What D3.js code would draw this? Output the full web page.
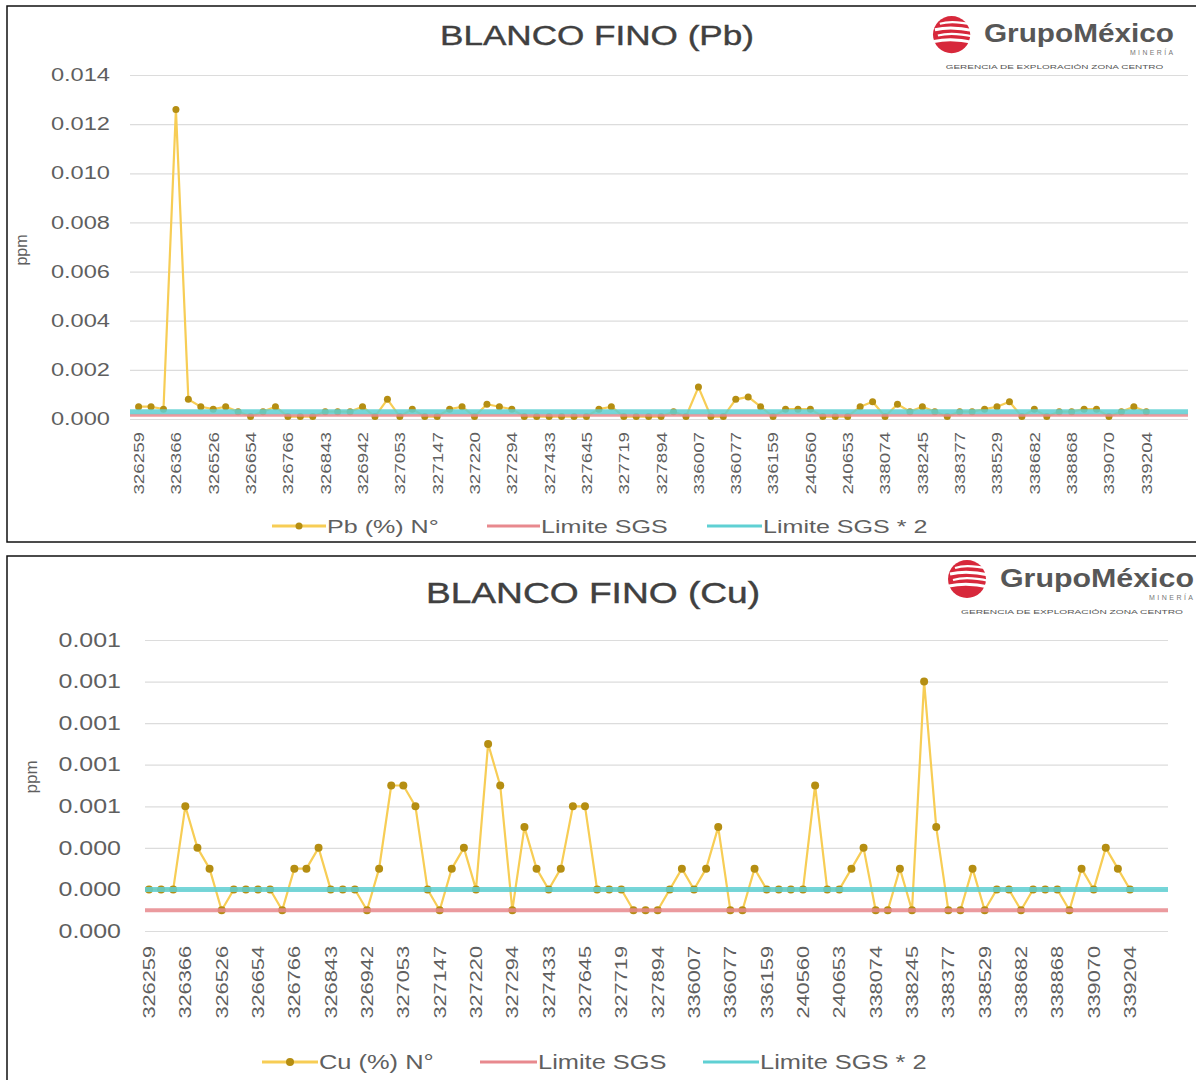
<!DOCTYPE html>
<html>
<head>
<meta charset="utf-8">
<script src="https://cdn.jsdelivr.net/npm/d3@7"></script>
<style>
  body { margin: 0; background: #fff; }
  text { font-family: "Liberation Sans", Arial, sans-serif; }
</style>
</head>
<body>
<svg id="chart" width="1196" height="1080"></svg>
<script>
// sample labels shown on the x axis (every third sample)
const tickLabels = ["326259", "326366", "326526", "326654", "326766", "326843", "326942",
  "327053", "327147", "327220", "327294", "327433", "327645", "327719", "327894",
  "336007", "336077", "336159", "240560", "240653", "338074", "338245", "338377",
  "338529", "338682", "338868", "339070", "339204"];

// Pb (%) per sample
const pbValues = [0.0005, 0.0005, 0.0004, 0.0126, 0.0008, 0.0005, 0.0004, 0.0005, 0.0003, 0.0001,
  0.0003, 0.0005, 0.0001, 0.0001, 0.0001, 0.0003, 0.0003, 0.0003, 0.0005, 0.0001,
  0.0008, 0.0001, 0.0004, 0.0001, 0.0001, 0.0004, 0.0005, 0.0001, 0.0006, 0.0005,
  0.0004, 0.0001, 0.0001, 0.0001, 0.0001, 0.0001, 0.0001, 0.0004, 0.0005, 0.0001,
  0.0001, 0.0001, 0.0001, 0.0003, 0.0001, 0.0013, 0.0001, 0.0001, 0.0008, 0.0009,
  0.0005, 0.0001, 0.0004, 0.0004, 0.0004, 0.0001, 0.0001, 0.0001, 0.0005, 0.0007,
  0.0001, 0.0006, 0.0003, 0.0005, 0.0003, 0.0001, 0.0003, 0.0003, 0.0004, 0.0005,
  0.0007, 0.0001, 0.0004, 0.0001, 0.0003, 0.0003, 0.0004, 0.0004, 0.0001, 0.0003,
  0.0005, 0.0003];

// Cu (%) per sample
const cuValues = [0.0002, 0.0002, 0.0002, 0.0006, 0.0004, 0.0003, 0.0001, 0.0002, 0.0002, 0.0002,
  0.0002, 0.0001, 0.0003, 0.0003, 0.0004, 0.0002, 0.0002, 0.0002, 0.0001, 0.0003,
  0.0007, 0.0007, 0.0006, 0.0002, 0.0001, 0.0003, 0.0004, 0.0002, 0.0009, 0.0007,
  0.0001, 0.0005, 0.0003, 0.0002, 0.0003, 0.0006, 0.0006, 0.0002, 0.0002, 0.0002,
  0.0001, 0.0001, 0.0001, 0.0002, 0.0003, 0.0002, 0.0003, 0.0005, 0.0001, 0.0001,
  0.0003, 0.0002, 0.0002, 0.0002, 0.0002, 0.0007, 0.0002, 0.0002, 0.0003, 0.0004,
  0.0001, 0.0001, 0.0003, 0.0001, 0.0012, 0.0005, 0.0001, 0.0001, 0.0003, 0.0001,
  0.0002, 0.0002, 0.0001, 0.0002, 0.0002, 0.0002, 0.0001, 0.0003, 0.0002, 0.0004,
  0.0003, 0.0002];

// detection limits
const pbLimit = 0.00015;
const cuLimit = 0.0001;

const pbTicks = [0, 0.002, 0.004, 0.006, 0.008, 0.010, 0.012, 0.014];
const cuTicks = [0, 0.0002, 0.0004, 0.0006, 0.0008, 0.0010, 0.0012, 0.0014];

const lineColor = "#f7cd55";
const markerColor = "#b58e12";
const redColor = "#e8898e";
const cyanColor = "#5fd0d3";
const textColor = "#5f5f5f";

const svg = d3.select("svg#chart");

// the source picture is a bit wider than tall, stretch text to match
function stretch(sel, k) {
  sel.each(function () {
    const w = this.getComputedTextLength();
    d3.select(this).attr("textLength", w * k).attr("lengthAdjust", "spacingAndGlyphs");
  });
}

function drawLogo(g, x, y, s) {
  const logo = g.append("g").attr("transform", `translate(${x},${y}) scale(${s})`);
  logo.append("circle").attr("cx", 20).attr("cy", 20).attr("r", 19).attr("fill", "#d7283b");
  // white swooshes across the emblem
  [[8, 9], [3, 15], [6, 21], [2, 27]].forEach((d, i) => {
    logo.append("path")
      .attr("d", `M${d[0]},${d[1]} Q20,${d[1] - 4} 42,${d[1] + 1}`)
      .attr("fill", "none").attr("stroke", "#fff").attr("stroke-width", i % 2 ? 3 : 2.2);
  });
  logo.append("text").attr("x", 53).attr("y", 28)
    .attr("font-size", 26).attr("font-weight", "bold").attr("fill", "#575757")
    .attr("textLength", 194).attr("lengthAdjust", "spacingAndGlyphs")
    .text("GrupoMéxico");
  logo.append("text").attr("x", 246).attr("y", 41).attr("text-anchor", "end")
    .attr("font-size", 7).attr("fill", "#777")
    .attr("textLength", 44).attr("lengthAdjust", "spacing")
    .text("MINERÍA");
  logo.append("text").attr("x", 236).attr("y", 55).attr("text-anchor", "end")
    .attr("font-size", 5.8).attr("fill", "#555")
    .attr("textLength", 222).attr("lengthAdjust", "spacingAndGlyphs")
    .text("GERENCIA DE EXPLORACIÓN ZONA CENTRO");
}

function drawChart(cfg) {
  const g = svg.append("g");

  g.append("rect")
    .attr("x", cfg.box[0]).attr("y", cfg.box[1])
    .attr("width", cfg.box[2]).attr("height", cfg.box[3])
    .attr("fill", "#fff").attr("stroke", "#111").attr("stroke-width", 1.5);

  g.append("text")
    .attr("x", cfg.titleX).attr("y", cfg.titleY)
    .attr("text-anchor", "middle")
    .attr("font-size", cfg.titleSize)
    .attr("fill", "#404040")
    .attr("stroke", "#404040").attr("stroke-width", 0.4)
    .text(cfg.title)
    .call(stretch, cfg.titleStretch);

  drawLogo(g, cfg.logo[0], cfg.logo[1], cfg.logo[2]);

  const x = d3.scaleLinear().domain([0, cfg.values.length - 1]).range(cfg.xRange);
  const y = d3.scaleLinear().domain([0, cfg.ticks[cfg.ticks.length - 1]])
    .range([cfg.plot.bottom, cfg.plot.top]);

  // gridlines + y labels
  const yAxis = g.append("g")
    .attr("transform", `translate(${cfg.plot.left},0)`)
    .call(d3.axisLeft(y).tickValues(cfg.ticks).tickFormat(d3.format(".3f"))
      .tickSize(-(cfg.plot.right - cfg.plot.left)).tickPadding(cfg.yPad));
  yAxis.select(".domain").remove();
  yAxis.selectAll(".tick line").attr("stroke", "#dcdcdc").attr("stroke-width", 1.2);
  yAxis.selectAll(".tick text")
    .attr("fill", textColor).attr("font-size", cfg.yFont)
    .style("font-family", "Liberation Sans, Arial, sans-serif")
    .call(stretch, cfg.yStretch);

  g.append("text")
    .attr("transform", `translate(${cfg.ppm[0]},${cfg.ppm[1]}) rotate(-90)`)
    .attr("text-anchor", "middle")
    .attr("font-size", cfg.ppmFont)
    .attr("fill", textColor)
    .text("ppm");

  // x labels, every third sample
  g.selectAll("text.xlab").data(tickLabels)
    .join("text")
    .attr("class", "xlab")
    .attr("transform", (d, i) => `translate(${x(i * 3) + cfg.xFont * 0.36},${cfg.xLabelTop}) rotate(-90)`)
    .attr("text-anchor", "end")
    .attr("font-size", cfg.xFont)
    .attr("fill", textColor)
    .text(d => d)
    .call(stretch, cfg.xStretch);

  // series
  const line = d3.line().x((d, i) => x(i)).y(d => y(d));
  g.append("path").datum(cfg.values)
    .attr("d", line)
    .attr("fill", "none")
    .attr("stroke", lineColor)
    .attr("stroke-width", 2.2)
    .attr("stroke-linejoin", "round");

  g.selectAll("circle.pt").data(cfg.values)
    .join("circle")
    .attr("class", "pt")
    .attr("cx", (d, i) => x(i))
    .attr("cy", d => y(d))
    .attr("r", cfg.r)
    .attr("fill", markerColor);

  // limit lines drawn on top
  g.append("line")
    .attr("x1", cfg.plot.left).attr("x2", cfg.plot.right)
    .attr("y1", y(cfg.limit)).attr("y2", y(cfg.limit))
    .attr("stroke", redColor).attr("stroke-width", cfg.redW).attr("opacity", 0.85);
  g.append("line")
    .attr("x1", cfg.plot.left).attr("x2", cfg.plot.right)
    .attr("y1", y(cfg.limit * 2)).attr("y2", y(cfg.limit * 2))
    .attr("stroke", cyanColor).attr("stroke-width", cfg.cyanW).attr("opacity", 0.85);

  // legend
  const lg = g.append("g").attr("transform", `translate(0,${cfg.legendY})`);
  const items = [
    { name: cfg.seriesName, color: lineColor, marker: true },
    { name: "Limite SGS", color: redColor },
    { name: "Limite SGS * 2", color: cyanColor }
  ];
  items.forEach((d, i) => {
    const [x0, x1] = cfg.legendX[i];
    lg.append("line").attr("x1", x0).attr("x2", x1).attr("y1", 0).attr("y2", 0)
      .attr("stroke", d.color).attr("stroke-width", 3);
    if (d.marker) {
      lg.append("circle").attr("cx", (x0 + x1) / 2).attr("cy", 0).attr("r", cfg.r)
        .attr("fill", markerColor);
    }
    lg.append("text").attr("x", x1 + 1).attr("y", 0)
      .attr("dy", "0.35em")
      .attr("font-size", cfg.legendFont)
      .attr("fill", textColor)
      .text(d.name)
      .call(stretch, cfg.legendStretch);
  });
}

drawChart({
  box: [7, 6, 1200, 536],
  title: "BLANCO FINO (Pb)", titleX: 597, titleY: 45, titleSize: 27, titleStretch: 1.3,
  logo: [932, 15, 0.98],
  values: pbValues, ticks: pbTicks, limit: pbLimit,
  plot: { left: 130, right: 1188, top: 75, bottom: 419 },
  xRange: [138.6, 1146.3],
  yPad: 20, yFont: 17.5, yStretch: 1.35,
  ppm: [27, 250], ppmFont: 16,
  xLabelTop: 432, xFont: 15, xStretch: 1.25,
  r: 3.5, redW: 3, cyanW: 5,
  legendY: 526, legendFont: 19, legendStretch: 1.32,
  seriesName: "Pb  (%) N°",
  legendX: [[272, 326], [487, 540], [707, 762]]
});

drawChart({
  box: [7, 556, 1200, 540],
  title: "BLANCO FINO (Cu)", titleX: 593, titleY: 603, titleSize: 29, titleStretch: 1.28,
  logo: [947, 559, 1.0],
  values: cuValues, ticks: cuTicks, limit: cuLimit,
  plot: { left: 145, right: 1168, top: 640, bottom: 931 },
  xRange: [149, 1130],
  yPad: 24, yFont: 19.5, yStretch: 1.28,
  ppm: [37, 777], ppmFont: 17,
  xLabelTop: 946, xFont: 17, xStretch: 1.28,
  r: 4, redW: 4, cyanW: 5,
  legendY: 1062, legendFont: 20.5, legendStretch: 1.24,
  seriesName: "Cu (%)  N°",
  legendX: [[262, 318], [480, 537], [703, 759]]
});
</script>
</body>
</html>
